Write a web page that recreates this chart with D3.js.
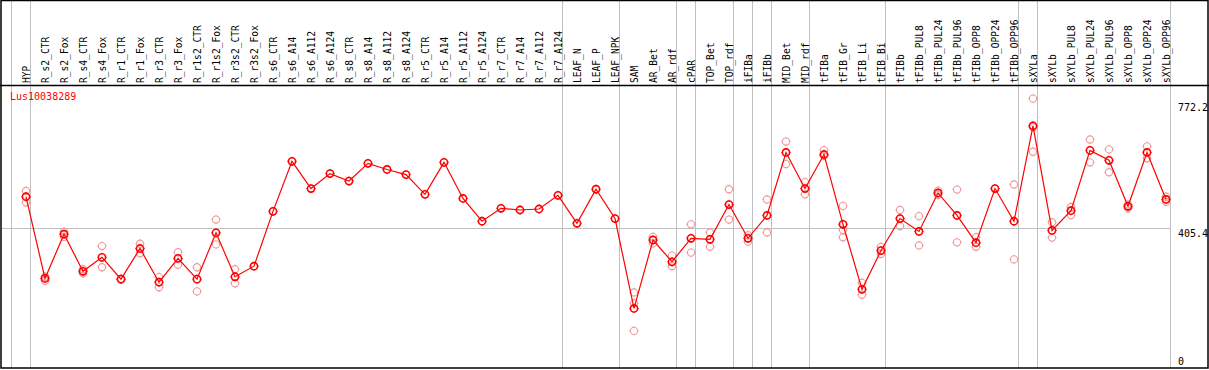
<!DOCTYPE html>
<html>
<head>
<meta charset="utf-8">
<script src="https://cdn.jsdelivr.net/npm/d3@7"></script>
<style>
  body { margin: 0; background: #fff; }
  svg text { font-family: "DejaVu Sans Mono", monospace; font-size: 10px; }
</style>
</head>
<body>
<div id="chart"></div>
<script>
// data
var geneName = "Lus10038289";

var samples = ["HYP", "R_s2_CTR", "R_s2_Fox", "R_s4_CTR", "R_s4_Fox", "R_r1_CTR", "R_r1_Fox",
  "R_r3_CTR", "R_r3_Fox", "R_r1s2_CTR", "R_r1s2_Fox", "R_r3s2_CTR", "R_r3s2_Fox",
  "R_s6_CTR", "R_s6_A14", "R_s6_A112", "R_s6_A124", "R_s8_CTR", "R_s8_A14", "R_s8_A112", "R_s8_A124",
  "R_r5_CTR", "R_r5_A14", "R_r5_A112", "R_r5_A124", "R_r7_CTR", "R_r7_A14", "R_r7_A112", "R_r7_A124",
  "LEAF_N", "LEAF_P", "LEAF_NPK", "SAM", "AR_Bet", "AR_rdf", "cPAR", "TOP_Bet", "TOP_rdf",
  "iFIBa", "iFIBb", "MID_Bet", "MID_rdf", "tFIBa", "tFIB_Gr", "tFIB_Li", "tFIB_Bi",
  "tFIBb", "tFIBb_PUL8", "tFIBb_PUL24", "tFIBb_PUL96", "tFIBb_OPP8", "tFIBb_OPP24", "tFIBb_OPP96",
  "sXYLa", "sXYLb", "sXYLb_PUL8", "sXYLb_PUL24", "sXYLb_PUL96", "sXYLb_OPP8", "sXYLb_OPP24", "sXYLb_OPP96"];

var means = [497, 257, 387, 278, 319, 255, 345, 246, 316, 255, 391, 262, 293,
  454, 601, 521, 565, 543, 595, 577, 562, 504, 598, 492, 425, 463, 458, 461, 501,
  419, 519, 433, 169, 370, 306, 375, 372, 474,
  375, 442, 627, 521, 621, 416, 225, 339,
  433, 395, 508, 442, 362, 521, 425,
  705, 398, 456, 633, 604, 469, 627, 489];

var replicates = [[514, 480], [250, 262], [394, 379], [272, 284], [352, 290], [256, 254], [359, 331],
  [261, 231], [334, 297], [290, 219], [430, 357], [284, 243], [],
  [], [], [], [], [], [], [], [], [], [], [], [], [], [], [], [],
  [], [], [], [216, 184, 103], [379, 360], [324, 293], [416, 333], [392, 350], [519, 430],
  [384, 365], [489, 392], [659, 593], [540, 504], [634, 617], [470, 399, 378], [244, 209], [350, 329],
  [458, 411], [440, 354], [502, 515], [518, 363], [378, 350], [], [533, 313],
  [785, 701, 629], [422, 377], [467, 443], [665, 598], [636, 569], [463, 474], [645, 610], [497, 482]];

// group separators: index of the last sample in each group
var groupEnds = [-1, 0, 28, 31, 34, 35, 37, 38, 39, 41, 45, 52, 53, 60];

var yTicks = [0, 405.4, 772.2];

var svgWidth = 1209;
var svgHeight = 370;

var svg = d3.select("#chart")
  .append("svg")
  .attr("width", svgWidth)
  .attr("height", svgHeight);

var xScale = d3.scalePoint()
  .domain(samples)
  .range([26, 26 + 19 * (samples.length - 1)]);

var yScale = d3.scaleLinear()
  .domain([0, 772.2])
  .range([366, 103]);

var gridColor = "#c0c0c0";
var plotRight = xScale(samples[samples.length - 1]) + 4;

// horizontal grid at middle value
svg.append("line")
  .attr("x1", 2).attr("x2", plotRight)
  .attr("y1", Math.round(yScale(405.4)) + 0.5)
  .attr("y2", Math.round(yScale(405.4)) + 0.5)
  .attr("stroke", gridColor);

// group separator lines
svg.selectAll(".sep")
  .data(groupEnds)
  .enter()
  .append("line")
  .attr("x1", d => xScale(samples[0]) + 19 * d + 4.5)
  .attr("x2", d => xScale(samples[0]) + 19 * d + 4.5)
  .attr("y1", 1)
  .attr("y2", 368)
  .attr("stroke", gridColor);

// frame
svg.append("rect")
  .attr("x", 1).attr("y", 0.5)
  .attr("width", 1207).attr("height", 367.5)
  .attr("fill", "none")
  .attr("stroke", "#000")
  .attr("stroke-width", 1.5);
svg.append("line")
  .attr("x1", 0).attr("x2", 1209)
  .attr("y1", 85.5).attr("y2", 85.5)
  .attr("stroke", "#000")
  .attr("stroke-width", 1.5);

// sample labels, rotated
svg.selectAll(".lbl")
  .data(samples)
  .enter()
  .append("text")
  .attr("transform", d => `translate(${xScale(d) + 4}, 83) rotate(-90)`)
  .attr("fill", "#000")
  .style("font-size", "9.6px")
  .text(d => d);

// right axis labels
svg.append("text")
  .attr("x", 1178).attr("y", yScale(772.2) + 8)
  .text(yTicks[2]);
svg.append("text")
  .attr("x", 1178).attr("y", yScale(405.4) + 9)
  .text(yTicks[1]);
svg.append("text")
  .attr("x", 1178).attr("y", yScale(0) - 1)
  .text(yTicks[0]);

// gene name
svg.append("text")
  .attr("x", 10).attr("y", 100)
  .attr("fill", "red")
  .text(geneName);

// replicate points
var reps = [];
replicates.forEach(function(list, i) {
  list.forEach(function(v) { reps.push({ s: samples[i], v: v }); });
});

function marker(g, color, sw) {
  g.append("circle")
    .attr("r", 3.6)
    .attr("fill", "none")
    .attr("stroke", color)
    .attr("stroke-width", sw);
  g.append("path")
    .attr("d", "M0,-4.6V-3.6M0,3.6V4.6M-4.6,0H-3.6M3.6,0H4.6")
    .attr("stroke", color)
    .attr("stroke-width", 1);
}

var repGroups = svg.selectAll(".rep")
  .data(reps)
  .enter()
  .append("g")
  .attr("transform", d => `translate(${xScale(d.s)}, ${yScale(d.v)})`);
marker(repGroups, "#f09a9a", 1.1);

// mean line
var line = d3.line()
  .x((d, i) => xScale(samples[i]))
  .y(d => yScale(d));

svg.append("path")
  .datum(means)
  .attr("d", line)
  .attr("fill", "none")
  .attr("stroke", "red")
  .attr("stroke-width", 1.2);

var meanGroups = svg.selectAll(".mean")
  .data(means)
  .enter()
  .append("g")
  .attr("transform", (d, i) => `translate(${xScale(samples[i])}, ${yScale(d)})`);
marker(meanGroups, "red", 1.6);
</script>
</body>
</html>
